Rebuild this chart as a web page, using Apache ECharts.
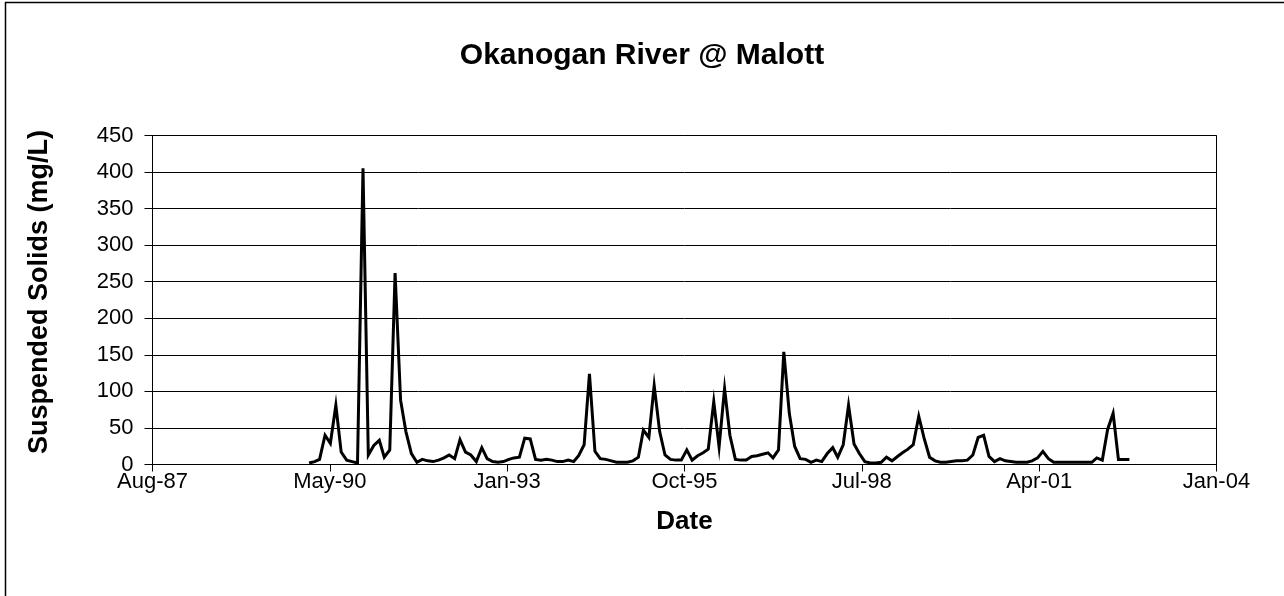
<!DOCTYPE html>
<html>
<head>
<meta charset="utf-8">
<script src="https://cdn.jsdelivr.net/npm/echarts@6/dist/echarts.min.js"></script>
<style>
html,body{margin:0;padding:0;background:#fff;}
#chart{width:1284px;height:596px;}
</style>
</head>
<body>
<div id="chart"></div>
<script>
// Sample dates (monthly) and suspended solids values (mg/L)
var sampleDates = [
  "1990-01-10","1990-02-10","1990-03-10","1990-04-10","1990-05-10","1990-06-10","1990-07-10","1990-08-10","1990-09-10","1990-10-10","1990-11-10","1990-12-10",
  "1991-01-10","1991-02-10","1991-03-10","1991-04-10","1991-05-10","1991-06-10","1991-07-10","1991-08-10","1991-09-10","1991-10-10","1991-11-10","1991-12-10",
  "1992-01-10","1992-02-10","1992-03-10","1992-04-10","1992-05-10","1992-06-10","1992-07-10","1992-08-10","1992-09-10","1992-10-10","1992-11-10","1992-12-10",
  "1993-01-10","1993-02-10","1993-03-10","1993-04-10","1993-05-10","1993-06-10","1993-07-10","1993-08-10","1993-09-10","1993-10-10","1993-11-10","1993-12-10",
  "1994-01-10","1994-02-10","1994-03-10","1994-04-10","1994-05-10","1994-06-10","1994-07-10","1994-08-10","1994-09-10","1994-10-10","1994-11-10","1994-12-10",
  "1995-01-10","1995-02-10","1995-03-10","1995-04-10","1995-05-10","1995-06-10","1995-07-10","1995-08-10","1995-09-10","1995-10-10","1995-11-10","1995-12-10",
  "1996-01-10","1996-02-10","1996-03-10","1996-04-10","1996-05-10","1996-06-10","1996-07-10","1996-08-10","1996-09-10","1996-10-10","1996-11-10","1996-12-10",
  "1997-01-10","1997-02-10","1997-03-10","1997-04-10","1997-05-10","1997-06-10","1997-07-10","1997-08-10","1997-09-10","1997-10-10","1997-11-10","1997-12-10",
  "1998-01-10","1998-02-10","1998-03-10","1998-04-10","1998-05-10","1998-06-10","1998-07-10","1998-08-10","1998-09-10","1998-10-10","1998-11-10","1998-12-10",
  "1999-01-10","1999-02-10","1999-03-10","1999-04-10","1999-05-10","1999-06-10","1999-07-10","1999-08-10","1999-09-10","1999-10-10","1999-11-10","1999-12-10",
  "2000-01-10","2000-02-10","2000-03-10","2000-04-10","2000-05-10","2000-06-10","2000-07-10","2000-08-10","2000-09-10","2000-10-10","2000-11-10","2000-12-10",
  "2001-01-10","2001-02-10","2001-03-10","2001-04-10","2001-05-10","2001-06-10","2001-07-10","2001-08-10","2001-09-10","2001-10-10","2001-11-10","2001-12-10",
  "2002-01-10","2002-02-10","2002-03-10","2002-04-10","2002-05-10","2002-06-10","2002-07-10","2002-08-10","2002-09-10"
];
var suspendedSolids = [
  2, 4, 7, 40, 29, 81, 17, 6, 4, 2, 405, 13,
  26, 33, 10, 20, 262, 88, 45, 15, 3, 7, 5, 4,
  6, 9, 13, 8, 34, 17, 13, 4, 23, 8, 4, 3,
  4, 7, 9, 10, 36, 35, 7, 6, 7, 6, 4, 4,
  6, 4, 12, 27, 124, 18, 8, 7, 5, 3, 3, 3,
  5, 10, 47, 37, 108, 45, 13, 7, 6, 6, 20, 6,
  12, 16, 21, 86, 24, 104, 40, 7, 6, 6, 11, 12,
  14, 16, 9, 20, 154, 70, 25, 8, 7, 3, 6, 4,
  15, 23, 10, 27, 81, 28, 15, 4, 2, 2, 3, 10,
  5, 11, 16, 21, 27, 66, 36, 10, 5, 3, 3, 4,
  5, 5, 6, 13, 37, 40, 11, 4, 8, 5, 4, 3,
  3, 3, 5, 9, 18, 8, 3, 3, 3, 3, 3, 3,
  3, 3, 9, 6, 48, 70, 7, 7, 7
];
// Axis settings: x axis in spreadsheet day serials (Aug-87 .. Jan-04)
var xAxisMin = 32000, xAxisMax = 38000, xAxisStep = 1000;
var yTicks = [0, 50, 100, 150, 200, 250, 300, 350, 400, 450];
var monthNames = ["Jan","Feb","Mar","Apr","May","Jun","Jul","Aug","Sep","Oct","Nov","Dec"];
var chartTitle = "Okanogan River @ Malott";
var xTitle = "Date";
var yTitle = "Suspended Solids (mg/L)";

var EPOCH = Date.UTC(1899, 11, 30);
function toSerial(s) {
  var p = s.split("-");
  return (Date.UTC(+p[0], +p[1] - 1, +p[2]) - EPOCH) / 86400000;
}
function serialLabel(v) {
  var d = new Date(EPOCH + Math.round(v) * 86400000);
  var yy = String(d.getUTCFullYear() % 100);
  if (yy.length < 2) yy = "0" + yy;
  return monthNames[d.getUTCMonth()] + "-" + yy;
}
var seriesData = sampleDates.map(function (s, i) { return [toSerial(s), suspendedSolids[i]]; });

var FONT = "'Liberation Sans', Arial, sans-serif";
var chart = echarts.init(document.getElementById('chart'), null, {renderer: 'canvas'});
chart.setOption({
  animation: false,
  backgroundColor: '#fff',
  title: {
    text: chartTitle,
    left: 'center',
    top: 36,
    textStyle: {fontFamily: FONT, fontSize: 30, fontWeight: 'bold', color: '#000'}
  },
  graphic: [{
    type: 'rect',
    shape: {x: 5.5, y: 2.5, width: 1400, height: 800},
    style: {fill: 'none', stroke: '#000', lineWidth: 1.5},
    silent: true
  }, {
    type: 'text',
    x: 40, y: 292,
    rotation: Math.PI / 2,
    style: {
      text: yTitle, fontFamily: FONT, fontSize: 27, fontWeight: 'bold', fill: '#000',
      align: 'center', verticalAlign: 'middle'
    },
    silent: true
  }],
  grid: {
    left: 152.5, right: 67.5, top: 135.5, bottom: 131.5,
    show: true, borderColor: '#000', borderWidth: 1, backgroundColor: 'transparent'
  },
  xAxis: {
    type: 'value',
    min: xAxisMin, max: xAxisMax, interval: xAxisStep,
    name: xTitle,
    nameLocation: 'middle',
    nameGap: 44,
    nameTextStyle: {fontFamily: FONT, fontSize: 26, fontWeight: 'bold', color: '#000'},
    axisLine: {show: true, lineStyle: {color: '#000', width: 1}},
    axisTick: {show: true, inside: false, length: 7, lineStyle: {color: '#000'}},
    axisLabel: {
      margin: 6,
      fontFamily: FONT, fontSize: 22, color: '#000',
      formatter: function (v) { return serialLabel(v); }
    },
    splitLine: {show: false}
  },
  yAxis: {
    type: 'value',
    min: yTicks[0], max: yTicks[yTicks.length - 1], interval: yTicks[1] - yTicks[0],
    axisLine: {show: true, lineStyle: {color: '#000', width: 1}},
    axisTick: {show: true, inside: false, length: 8, lineStyle: {color: '#000'}},
    axisLabel: {margin: 19, fontFamily: FONT, fontSize: 22, color: '#000'},
    splitLine: {show: true, lineStyle: {color: '#000', width: 1}}
  },
  series: [{
    type: 'line',
    data: seriesData,
    showSymbol: false,
    symbol: 'none',
    smooth: false,
    lineStyle: {color: '#000', width: 3, join: 'miter'},
    itemStyle: {color: '#000'}
  }]
});
</script>
</body>
</html>
